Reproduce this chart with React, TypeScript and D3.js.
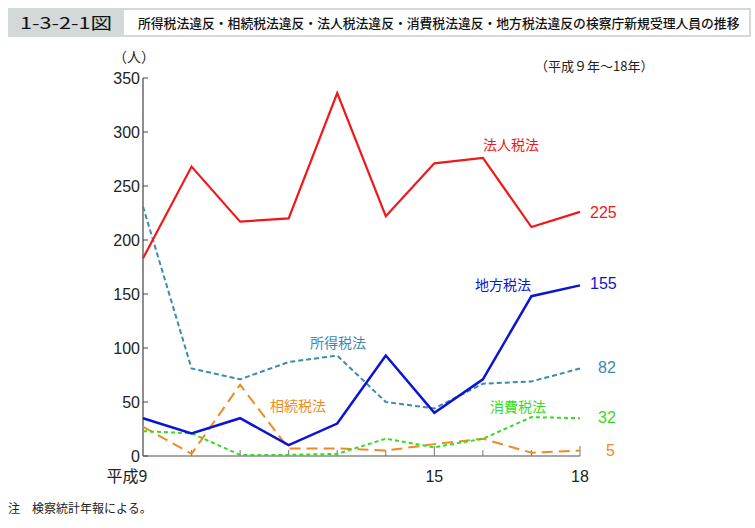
import React from "react";
import * as d3 from "d3";

const years = ["9", "10", "11", "12", "13", "14", "15", "16", "17", "18"];
const xTickLabels = ["平成9", "", "", "", "", "", "15", "", "", "18"];
const yTicks = [0, 50, 100, 150, 200, 250, 300, 350];

const houjin = [183, 268, 217, 220, 336, 222, 271, 276, 212, 226];
const shotoku = [231, 81, 71, 87, 93, 50, 44, 67, 69, 81];
const chihou = [35, 21, 35, 10, 30, 93, 40, 71, 148, 158];
const souzoku = [27, 2, 66, 7, 7, 5, 11, 16, 3, 5];
const shouhi = [23, 21, 1, 1, 2, 16, 8, 16, 36, 35];

const endLabels = ["225", "82", "155", "5", "32"];

const W = 755;
const H = 528;

export default function App() {
  const x = d3.scalePoint<string>().domain(years).range([143, 580]);
  const y = d3.scaleLinear().domain([0, 350]).range([456, 78]);
  const line = (vals: number[]) =>
    d3
      .line<number>()
      .x((_, i) => x(years[i]) as number)
      .y((d) => y(d))(vals) as string;

  const series = [
    { vals: shotoku, color: "#3a8ab4", width: 2, dash: "5,3", label: endLabels[1], lx: 598, name: "所得税法", nx: 310, ny: 348 },
    { vals: souzoku, color: "#f08a24", width: 2, dash: "11,6", label: endLabels[3], lx: 606, name: "相続税法", nx: 270, ny: 411 },
    { vals: shouhi, color: "#33dd22", width: 2, dash: "4,3", label: endLabels[4], lx: 598, name: "消費税法", nx: 490, ny: 412 },
    { vals: chihou, color: "#0c14d4", width: 2.5, dash: "", label: endLabels[2], lx: 590, name: "地方税法", nx: 475, ny: 290 },
    { vals: houjin, color: "#f01818", width: 2.2, dash: "", label: endLabels[0], lx: 590, name: "法人税法", nx: 483, ny: 150 },
  ];
  const labelY: Record<string, number> = { "225": 212, "82": 367, "155": 283, "5": 450, "32": 417 };

  const jp = "'Noto Sans CJK JP', sans-serif";
  const num = "'Liberation Sans', Arial, sans-serif";

  return (
    <svg width={W} height={H} style={{ position: "absolute", left: 0, top: 0, background: "#fff" }}>
      {/* header */}
      <rect x={8} y={8} width={743} height={29} fill="#d3d8d8" />
      <rect x={124} y={10} width={625} height={25} fill="#fff" />
      <text x={20} y={29} fontFamily={jp} fontSize={16} fill="#111" textLength={92} lengthAdjust="spacingAndGlyphs">
        1-3-2-1図
      </text>
      <text x={138} y={27.5} fontFamily={jp} fontSize={12.8} fontWeight={500} fill="#111">
        所得税法違反・相続税法違反・法人税法違反・消費税法違反・地方税法違反の検察庁新規受理人員の推移
      </text>

      {/* axes */}
      <line x1={143} x2={143} y1={78} y2={456} stroke="#444" strokeWidth={1.2} />
      <line x1={143} x2={580} y1={456} y2={456} stroke="#888" strokeWidth={1.5} />
      {yTicks.map((t) => (
        <g key={t}>
          <line x1={143} x2={148} y1={y(t)} y2={y(t)} stroke="#444" strokeWidth={1} />
          <text x={140} y={y(t) + 6} textAnchor="end" fontFamily={num} fontSize={16} fill="#222">
            {t}
          </text>
        </g>
      ))}
      {years.map((yr, i) => (
        <g key={yr}>
          {i > 0 && (
            <line x1={x(yr)} x2={x(yr)} y1={456} y2={xTickLabels[i] ? 446 : 450} stroke="#777" strokeWidth={1} />
          )}
          {xTickLabels[i] && (
            <text x={(x(yr) as number) + (i === 0 ? -16 : 0)} y={482} textAnchor="middle" fontFamily={i === 0 ? jp : num} fontSize={16} fill="#222">
              {xTickLabels[i]}
            </text>
          )}
        </g>
      ))}
      <text x={113} y={62} fontFamily={jp} fontSize={14} fill="#222">（人）</text>
      <text x={535} y={71} fontFamily={jp} fontSize={13} fill="#222">（平成９年～18年）</text>

      {/* series */}
      {series.map((s, i) => (
        <g key={i}>
          <path d={line(s.vals)} fill="none" stroke={s.color} strokeWidth={s.width} strokeDasharray={s.dash || undefined} strokeLinejoin="miter" />
          <text x={s.nx} y={s.ny} fontFamily={jp} fontSize={14} fill={s.color}>
            {s.name}
          </text>
          <text x={s.lx} y={labelY[s.label] + 6} fontFamily={num} fontSize={16} fill={s.color}>
            {s.label}
          </text>
        </g>
      ))}

      <text x={8} y={513} fontFamily={jp} fontSize={12} fill="#222">注　検察統計年報による。</text>
    </svg>
  );
}
